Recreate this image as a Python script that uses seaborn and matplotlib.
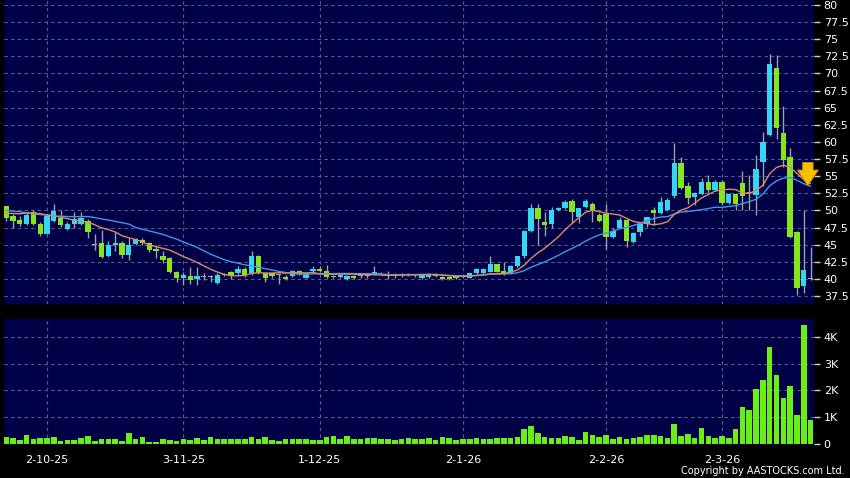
import numpy as np
import pandas as pd
import seaborn as sns
import matplotlib.pyplot as plt

# daily candles, index = trading day
opens = [50.6, 49.2, 48.6, 48.0, 49.7, 48.0, 46.6, 48.5, 48.9, 47.3,
         48.0, 48.0, 48.4, 45.0, 45.2, 43.4, 44.9, 45.3, 43.5, 45.1,
         45.7, 45.2, 44.4, 43.4, 43.0, 41.0, 40.2, 40.4, 40.0, 40.3,
         40.3, 39.4, 40.6, 41.0, 40.8, 41.5, 40.8, 43.3, 40.8, 40.8,
         40.6, 40.3, 40.4, 41.1, 40.2, 41.1, 41.4, 41.2, 40.3, 40.3,
         40.0, 40.4, 40.4, 40.4, 40.7, 40.8, 40.6, 40.5, 40.5, 40.6,
         40.5, 40.1, 40.3, 40.6, 40.3, 40.3, 40.4, 40.3, 40.2, 40.8,
         40.8, 41.05, 42.1, 41.15, 40.8, 41.9, 43.3, 47.0, 50.4, 48.3,
         48.0, 50.1, 50.3, 51.4, 49.0, 50.5, 51.0, 49.4, 49.5, 46.1,
         47.5, 48.6, 45.4, 46.8, 48.0, 50.0, 49.6, 50.0, 52.1, 56.9,
         53.6, 51.9, 52.4, 54.1, 53.0, 54.1, 51.1, 52.4, 54.0, 52.6,
         52.25, 57.0, 61.0, 70.75, 61.35, 57.85, 46.9, 39.0, 40.0]
highs = [50.7, 49.5, 49.2, 49.7, 50.0, 48.3, 49.4, 51.0, 50.0, 48.3,
         49.7, 49.7, 48.7, 46.6, 47.2, 45.6, 46.8, 45.5, 46.0, 46.0,
         46.0, 45.4, 44.9, 44.1, 43.2, 41.2, 41.0, 41.8, 41.7, 40.8,
         40.6, 40.8, 40.8, 41.2, 41.9, 41.7, 44.0, 43.5, 41.0, 40.9,
         40.8, 40.5, 41.3, 41.3, 41.0, 41.9, 41.9, 42.0, 40.6, 40.7,
         40.5, 40.6, 40.6, 40.5, 41.9, 41.0, 41.1, 40.8, 40.9, 40.8,
         40.7, 40.7, 40.8, 40.8, 40.4, 40.4, 40.5, 40.5, 40.9, 41.6,
         41.6, 43.3, 42.2, 42.4, 42.0, 43.4, 47.2, 51.0, 51.0, 49.8,
         50.5, 50.5, 51.5, 51.6, 50.4, 51.6, 51.3, 49.6, 50.9, 47.4,
         49.0, 48.8, 46.8, 48.1, 49.1, 50.5, 52.0, 51.8, 59.9, 57.8,
         54.2, 52.7, 54.7, 55.2, 54.4, 54.5, 52.5, 52.5, 55.7, 55.2,
         58.1, 61.5, 72.9, 72.7, 65.25, 59.1, 47.0, 50.0, 44.7]
lows = [48.4, 47.4, 47.7, 47.9, 47.9, 46.3, 46.5, 48.3, 47.6, 47.1,
        47.4, 47.8, 45.9, 44.2, 43.1, 43.2, 44.0, 43.0, 42.8, 45.0,
        45.0, 43.9, 43.0, 42.3, 40.8, 39.6, 39.1, 39.3, 39.1, 39.8,
        39.5, 39.3, 40.4, 40.0, 40.6, 40.3, 40.6, 40.7, 39.6, 40.2,
        39.3, 39.9, 40.3, 40.5, 40.1, 40.9, 41.0, 40.2, 40.1, 40.2,
        39.9, 40.0, 40.2, 40.2, 40.5, 40.6, 40.0, 40.2, 40.3, 40.4,
        40.3, 40.0, 40.2, 40.3, 39.9, 39.8, 40.0, 40.1, 40.1, 40.7,
        40.7, 41.0, 41.0, 40.6, 40.7, 41.8, 43.1, 46.9, 45.0, 46.3,
        47.5, 49.9, 50.2, 48.2, 48.2, 50.3, 48.3, 48.3, 44.3, 46.0,
        47.4, 44.7, 45.2, 46.2, 47.6, 47.9, 49.5, 49.9, 51.8, 53.1,
        50.9, 50.8, 52.3, 52.5, 52.9, 50.8, 51.0, 50.0, 50.1, 50.1,
        49.3, 53.5, 60.8, 60.5, 56.4, 45.9, 37.65, 38.0, 39.9]
closes = [48.9, 48.4, 48.0, 49.3, 48.0, 46.6, 49.2, 49.9, 47.8, 48.0,
          48.7, 48.9, 46.9, 45.0, 43.2, 44.9, 45.3, 43.5, 45.0, 45.8,
          45.2, 44.2, 44.1, 42.8, 41.0, 40.2, 40.5, 39.9, 40.4, 40.3,
          40.3, 40.6, 40.6, 40.4, 41.5, 40.6, 43.3, 40.9, 40.1, 40.4,
          40.6, 40.0, 41.1, 40.7, 40.9, 41.4, 41.1, 40.3, 40.3, 40.6,
          40.4, 40.2, 40.4, 40.4, 41.0, 40.8, 40.6, 40.5, 40.7, 40.6,
          40.5, 40.6, 40.7, 40.4, 40.0, 39.95, 40.1, 40.3, 40.8, 41.4,
          41.5, 42.1, 41.05, 40.7, 41.9, 43.3, 47.0, 50.4, 48.8, 47.9,
          50.1, 50.3, 51.3, 49.8, 50.3, 51.4, 49.9, 48.5, 46.1, 47.0,
          48.6, 45.6, 46.7, 48.0, 49.0, 49.6, 51.3, 51.5, 56.9, 53.3,
          51.8, 52.6, 54.2, 53.0, 54.1, 51.1, 52.4, 51.0, 52.1, 52.6,
          56.0, 60.0, 71.4, 62.0, 57.4, 46.1, 38.6, 41.3, 40.0]

# 10 day and 20 day averages as drawn on the chart
ma10 = [49.6, 49.55, 49.5, 49.6, 49.6, 49.5, 49.35, 49.2, 49.0, 48.8,
        48.55, 48.45, 48.3, 47.9, 47.45, 47.2, 46.85, 46.3, 46.0, 45.75,
        45.4, 44.95, 44.7, 44.45, 44.2, 43.75, 43.25, 42.85, 42.4, 41.9,
        41.4, 41.0, 40.65, 40.45, 40.45, 40.5, 40.8, 40.9, 40.85, 40.85,
        40.9, 40.84, 40.89, 40.92, 40.86, 40.94, 40.72, 40.66, 40.68, 40.7,
        40.68, 40.7, 40.63, 40.6, 40.61, 40.55, 40.5, 40.52, 40.56, 40.56,
        40.57, 40.61, 40.64, 40.64, 40.54, 40.46, 40.4, 40.39, 40.4, 40.48,
        40.58, 40.73, 40.76, 40.79, 40.98, 41.3, 42.0, 43.0, 43.8, 44.47,
        45.3, 46.15, 47.17, 48.08, 48.92, 49.73, 50.02, 49.83, 49.56, 49.47,
        49.32, 48.85, 48.39, 48.21, 48.08, 47.9, 48.04, 48.34, 49.42, 50.05,
        50.37, 51.07, 51.82, 52.32, 52.83, 52.98, 53.09, 53.04, 52.56, 52.49,
        52.91, 53.65, 55.37, 56.27, 56.6, 56.3, 55.4, 54.5, 53.9]
ma20 = [50.0, 49.9, 49.8, 49.65, 49.5, 49.4, 49.3, 49.2, 49.15, 49.1,
        49.1, 49.1, 49.1, 48.95, 48.75, 48.6, 48.4, 48.2, 48.0, 47.5,
        47.25, 47.0, 46.75, 46.5, 46.15, 45.8, 45.4, 45.0, 44.6, 44.1,
        43.6, 43.2, 42.8, 42.5, 42.3, 42.05, 41.9, 41.7, 41.5, 41.3,
        41.1, 40.93, 40.78, 40.67, 40.67, 40.73, 40.76, 40.78, 40.77, 40.79,
        40.79, 40.77, 40.76, 40.76, 40.74, 40.75, 40.61, 40.59, 40.62, 40.63,
        40.63, 40.66, 40.64, 40.62, 40.58, 40.5, 40.45, 40.45, 40.48, 40.52,
        40.57, 40.67, 40.7, 40.72, 40.76, 40.89, 41.2, 41.7, 42.1, 42.47,
        42.95, 43.44, 43.97, 44.44, 44.95, 45.52, 46.01, 46.42, 46.69, 46.97,
        47.32, 47.5, 47.78, 48.15, 48.5, 48.82, 49.03, 49.09, 49.49, 49.76,
        49.85, 49.96, 50.1, 50.27, 50.46, 50.44, 50.57, 50.69, 50.99, 51.27,
        51.64, 52.36, 53.6, 54.3, 54.72, 54.8, 54.4, 53.9, 53.5]

# volume in thousands
volume_k = [0.23, 0.2, 0.14, 0.32, 0.17, 0.2, 0.22, 0.25, 0.11, 0.14,
            0.14, 0.2, 0.27, 0.1, 0.17, 0.16, 0.16, 0.1, 0.39, 0.16,
            0.24, 0.05, 0.06, 0.17, 0.14, 0.08, 0.17, 0.14, 0.2, 0.15,
            0.24, 0.16, 0.16, 0.16, 0.16, 0.16, 0.24, 0.17, 0.23, 0.15,
            0.1, 0.17, 0.17, 0.17, 0.17, 0.15, 0.15, 0.24, 0.28, 0.17,
            0.3, 0.17, 0.17, 0.22, 0.22, 0.17, 0.17, 0.15, 0.17, 0.2,
            0.17, 0.17, 0.19, 0.13, 0.23, 0.2, 0.15, 0.16, 0.18, 0.21,
            0.18, 0.18, 0.2, 0.2, 0.19, 0.24, 0.53, 0.65, 0.4, 0.24,
            0.2, 0.2, 0.29, 0.24, 0.15, 0.42, 0.31, 0.26, 0.32, 0.16,
            0.26, 0.18, 0.21, 0.26, 0.32, 0.33, 0.29, 0.21, 0.74, 0.27,
            0.35, 0.2, 0.58, 0.29, 0.2, 0.29, 0.19, 0.56, 1.37, 1.26,
            2.05, 2.39, 3.64, 2.56, 1.71, 2.16, 1.08, 4.44, 0.9]

date_pos = [6, 26, 46, 67, 88, 105]
date_labels = ["2-10-25", "3-11-25", "1-12-25", "2-1-26", "2-2-26", "2-3-26"]
price_ticks = [37.5, 40, 42.5, 45, 47.5, 50, 52.5, 55, 57.5, 60, 62.5, 65, 67.5, 70, 72.5, 75, 77.5, 80]
vol_ticks = [0, 1, 2, 3, 4]
vol_labels = ["0", "1K", "2K", "3K", "4K"]

df = pd.DataFrame({"day": np.arange(len(closes)), "open": opens, "high": highs,
                   "low": lows, "close": closes, "ma10": ma10, "ma20": ma20,
                   "vol": volume_k})

sns.set_theme(style="dark")
plt.rcParams['font.family'] = ['DejaVu Sans']

navy = "#000046"
grid_c = "#5c5c90"
up_c = "#33d8ee"
down_c = "#86e61e"
flat_c = "#a8a8a8"

fig = plt.figure(figsize=(8.5, 4.78), dpi=100, facecolor="black")
ax1 = fig.add_axes([4 / 850, 1 - 304 / 478, 810 / 850, 304 / 478])
ax2 = fig.add_axes([4 / 850, 1 - 443.5 / 478, 810 / 850, 124.5 / 478])

for ax in (ax1, ax2):
    ax.set_facecolor(navy)
    for s in ax.spines.values():
        s.set_visible(False)

# candles
day = df["day"]
ax1.vlines(day, df["low"], df["high"], color="#a0a0a0", linewidth=1, zorder=2)
body_low = np.minimum(df["open"], df["close"])
body_h = np.maximum((df["close"] - df["open"]).abs(), 0.1)
colors = [up_c if c > o else (down_c if c < o else flat_c) for o, c in zip(opens, closes)]
ax1.bar(day, body_h, bottom=body_low, width=0.78, color=colors, linewidth=0, zorder=3)

sns.lineplot(data=df, x="day", y="ma20", color="#3c9ae8", linewidth=1, ax=ax1, zorder=4)
sns.lineplot(data=df, x="day", y="ma10", color="#e08a5e", linewidth=1, ax=ax1, zorder=4)

# sell signal arrow
ax1.annotate("", xy=(117.6, 53.2), xytext=(117.6, 57.4),
             arrowprops=dict(arrowstyle="simple,head_length=0.75,head_width=1.0,tail_width=0.5",
                             fc="#f6c200", ec="#c98d00", lw=0.7, mutation_scale=15), zorder=6)

ax1.set_xlim(-0.31, 118.5)
ax1.set_ylim(36.33, 80.73)
ax1.yaxis.tick_right()
ax1.set_yticks(price_ticks)
ax1.set_yticklabels(["%g" % t for t in price_ticks])
ax1.set_xticks(date_pos)
ax1.set_xticklabels([])
ax1.tick_params(axis="x", length=0)
ax1.tick_params(axis="y", length=4, width=1, color="#d0d0d0", labelcolor="white",
                labelsize=8, pad=3, direction="out")
ax1.set_xlabel("")
ax1.set_ylabel("")
ax1.grid(True, color=grid_c, linestyle=(0, (3, 3)), linewidth=0.8)
ax1.set_axisbelow(True)

# volume
sns.barplot(data=df, x="day", y="vol", color="#68f016", saturation=1, width=0.82,
            linewidth=0, ax=ax2, zorder=3)
ax2.set_xlim(-0.31, 118.5)
ax2.set_ylim(0, 4.68)
ax2.yaxis.tick_right()
ax2.set_yticks(vol_ticks)
ax2.set_yticklabels(vol_labels)
ax2.set_xticks(date_pos)
ax2.set_xticklabels(date_labels)
ax2.tick_params(axis="x", length=3, width=1, color="#d0d0d0", labelcolor="white",
                labelsize=8, pad=5, direction="out")
ax2.tick_params(axis="y", length=4, width=1, color="#d0d0d0", labelcolor="white",
                labelsize=8, pad=3, direction="out")
ax2.set_xlabel("")
ax2.set_ylabel("")
ax2.grid(True, color=grid_c, linestyle=(0, (3, 3)), linewidth=0.8)
ax2.set_axisbelow(True)

fig.text(0.994, 1 - 471.5 / 478, "Copyright by AASTOCKS.com Ltd.", color="white",
         fontsize=7, ha="right", va="center")

fig.savefig("out.png", dpi=100, facecolor="black")
